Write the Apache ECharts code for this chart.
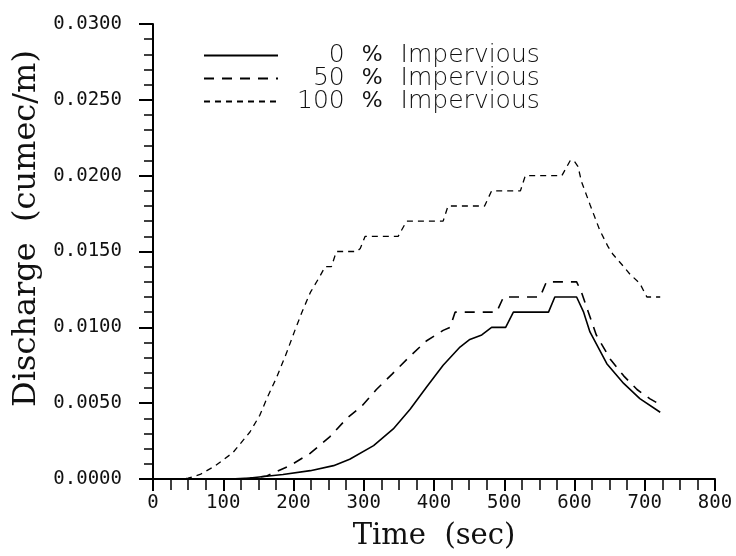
<!DOCTYPE html>
<html>
<head>
<meta charset="utf-8">
<script src="https://cdn.jsdelivr.net/npm/echarts@6/dist/echarts.min.js"></script>
<style>html,body{margin:0;padding:0;background:#fff;}#c{width:736px;height:556px;}</style>
</head>
<body>
<div id="c"></div>
<script>
// Series names
const seriesNames = ['0 % Impervious', '50 % Impervious', '100 % Impervious'];
const legendNums = ['0', '50', '100'];

// 0 % impervious
const t0 = [0, 110, 138, 185, 224, 257, 280, 314, 342, 366, 390, 413, 437, 451, 468, 482, 502, 513, 563, 572, 603, 613, 622, 646, 670, 693, 722];
const q0 = [0, 0, 0.00007, 0.0003, 0.00055, 0.00088, 0.0013, 0.0022, 0.0033, 0.0046, 0.0061, 0.0075, 0.0087, 0.0092, 0.0095, 0.0100, 0.0100, 0.0110, 0.0110, 0.0120, 0.0120, 0.0110, 0.0097, 0.0076, 0.0063, 0.0053, 0.0044];

// 50 % impervious
const t50 = [0, 130, 162, 195, 224, 252, 276, 297, 318, 340, 366, 389, 413, 423, 430, 489, 499, 551, 560, 603, 610, 619, 631, 651, 670, 689, 707, 722];
const q50 = [0, 0, 0.0002, 0.00088, 0.0017, 0.0028, 0.0040, 0.0048, 0.0059, 0.0069, 0.0081, 0.0091, 0.0098, 0.0100, 0.0110, 0.0110, 0.0120, 0.0120, 0.0130, 0.0130, 0.0123, 0.0111, 0.0095, 0.0079, 0.0068, 0.0059, 0.0053, 0.0049];

// 100 % impervious
const t100 = [0, 40, 50, 67, 88, 114, 138, 152, 162, 176, 190, 202, 212, 224, 238, 245, 254, 261, 290, 295, 302, 349, 361, 413, 420, 472, 482, 523, 530, 582, 594, 599, 605, 610, 622, 636, 648, 655, 670, 679, 693, 703, 722];
const q100 = [0, 0, 0.00005, 0.0003, 0.00085, 0.00175, 0.0031, 0.0042, 0.0053, 0.0067, 0.0083, 0.0098, 0.0110, 0.0123, 0.0134, 0.0140, 0.0140, 0.0150, 0.0150, 0.0152, 0.0160, 0.0160, 0.0170, 0.0170, 0.0180, 0.0180, 0.0190, 0.0190, 0.0200, 0.0200, 0.0210, 0.0210, 0.0206, 0.0196, 0.0181, 0.0164, 0.0153, 0.0148, 0.0140, 0.0135, 0.0129, 0.0120, 0.0120];

function pairs(t, q) { return t.map((x, i) => [x, q[i]]); }

const tickFont = 'DejaVu Sans Mono';
const chart = echarts.init(document.getElementById('c'), null, {renderer: 'canvas'});
const nameToNum = {};
seriesNames.forEach((n, i) => {
  const s = legendNums[i];
  nameToNum[n] = '\u2007'.repeat(3 - s.length) + s;
});

const legFont = {fontFamily: 'DejaVu Sans', fontSize: 25, fontWeight: 300, color: '#111', lineHeight: 21};

chart.setOption({
  animation: false,
  backgroundColor: '#ffffff',
  grid: {left: 153, top: 24, right: 21, bottom: 76, containLabel: false},
  legend: {
    orient: 'vertical',
    left: 198,
    top: 38,
    itemWidth: 74,
    itemHeight: 14,
    itemGap: -2,
    data: seriesNames,
    itemStyle: {opacity: 0},
    formatter: function (name) {
      return '{n|' + nameToNum[name] + '}{p|%}{t|Impervious}';
    },
    textStyle: {
      color: '#111',
      fontSize: 25,
      lineHeight: 21,
      rich: {
        n: Object.assign({}, legFont, {padding: [0, 0, 0, 14]}),
        p: Object.assign({}, legFont, {fontSize: 22, fontWeight: 'normal', padding: [0, 18, 0, 17]}),
        t: Object.assign({}, legFont)
      }
    }
  },
  xAxis: {
    type: 'value',
    min: 0, max: 800, interval: 100,
    name: 'Time  (sec)',
    nameLocation: 'middle',
    nameGap: 43,
    nameTextStyle: {fontFamily: 'DejaVu Serif', fontSize: 29, color: '#111'},
    axisLine: {show: true, onZero: false, lineStyle: {color: '#000', width: 2}},
    axisTick: {show: true, inside: false, length: 12, lineStyle: {color: '#000', width: 2}},
    minorTick: {show: true, splitNumber: 4, length: 11, lineStyle: {color: '#000', width: 1.5}},
    axisLabel: {margin: 15, fontFamily: tickFont, fontSize: 19, color: '#111'},
    splitLine: {show: false},
    minorSplitLine: {show: false}
  },
  yAxis: {
    type: 'value',
    min: 0, max: 0.03, interval: 0.005,
    name: 'Discharge  (cumec/m)',
    nameLocation: 'middle',
    nameGap: 106,
    nameTextStyle: {fontFamily: 'DejaVu Serif', fontSize: 32, color: '#111', padding: [0, 0, 0, 46]},
    axisLine: {show: true, onZero: false, lineStyle: {color: '#000', width: 2}},
    axisTick: {show: true, inside: false, length: 14, lineStyle: {color: '#000', width: 2}},
    minorTick: {show: true, splitNumber: 5, length: 9, lineStyle: {color: '#000', width: 1.5}},
    axisLabel: {margin: 31, fontFamily: tickFont, fontSize: 19, color: '#111', formatter: v => v.toFixed(4)},
    splitLine: {show: false},
    minorSplitLine: {show: false}
  },
  series: [
    {name: seriesNames[0], type: 'line', data: pairs(t0, q0), symbol: 'none', smooth: false,
     lineStyle: {color: '#000', width: 1.6, type: 'solid'}, itemStyle: {color: '#000'}},
    {name: seriesNames[1], type: 'line', data: pairs(t50, q50), symbol: 'none', smooth: false,
     lineStyle: {color: '#000', width: 1.6, type: [10, 8]}, itemStyle: {color: '#000'}},
    {name: seriesNames[2], type: 'line', data: pairs(t100, q100), symbol: 'none', smooth: false,
     lineStyle: {color: '#000', width: 1.3, type: [6, 5]}, itemStyle: {color: '#000'}}
  ]
});
</script>
</body>
</html>
